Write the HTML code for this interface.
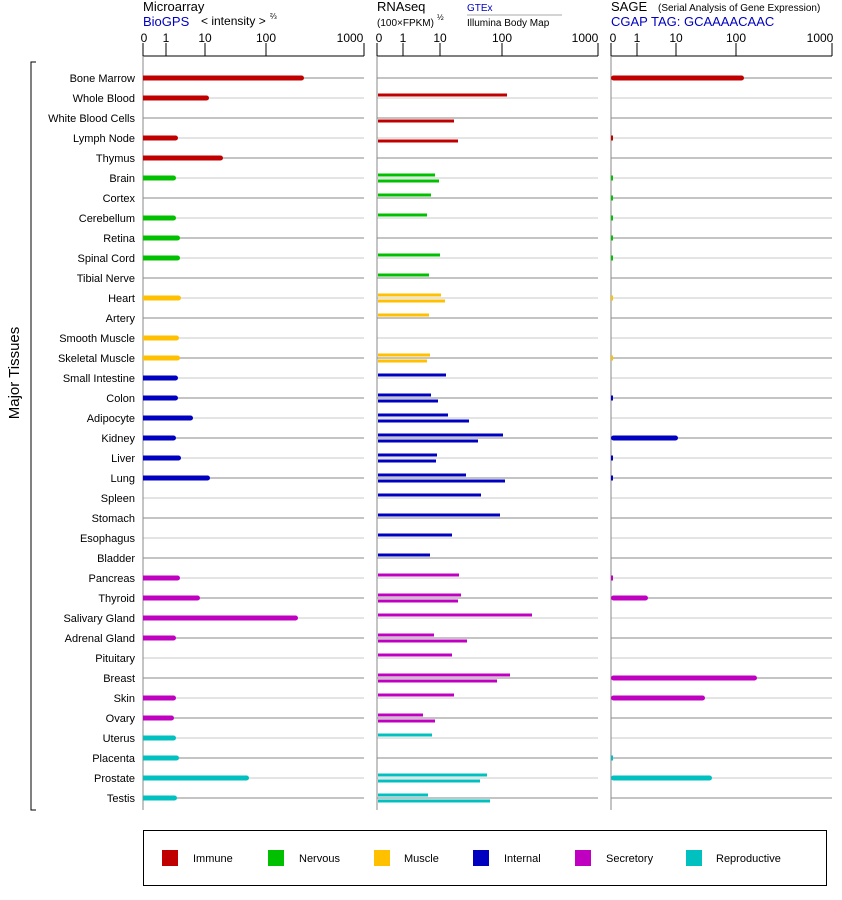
<!DOCTYPE html>
<html><head><meta charset="utf-8"><style>
body{margin:0;background:#fff;}
svg{display:block;font-family:"Liberation Sans",sans-serif;}
.lb{font-size:11px;fill:#000;text-anchor:end;}
.tk{font-size:12px;fill:#000;text-anchor:middle;}
</style></head><body>
<svg id="s" width="842" height="900" viewBox="0 0 842 900">
<g id="grid"></g>
<g id="bars"></g>
<!-- headers -->
<text x="143" y="11" font-size="13">Microarray</text>
<text x="143" y="26" font-size="13" fill="#0000c0">BioGPS</text>
<text x="201" y="25" font-size="12">&lt; intensity &gt;</text>
<text x="270" y="19" font-size="8">⅔</text>
<text x="377" y="11" font-size="13">RNAseq</text>
<text x="377" y="26" font-size="10">(100×FPKM)</text>
<text x="437" y="20" font-size="8">½</text>
<text x="467" y="11" font-size="10" fill="#0000c0">GTEx</text>
<line x1="467" y1="15" x2="562" y2="15" stroke="#aaa" stroke-width="1"/>
<text x="467" y="26" font-size="10">Illumina Body Map</text>
<text x="611" y="11" font-size="13">SAGE</text>
<text x="658" y="11" font-size="10">(Serial Analysis of Gene Expression)</text>
<text x="611" y="26" font-size="13" fill="#0000c0">CGAP TAG: GCAAAACAAC</text>
<g class="tk">
<text x="144" y="42">0</text><text x="166" y="42">1</text><text x="205" y="42">10</text><text x="266" y="42">100</text><text x="350" y="42">1000</text>
<text x="379" y="42">0</text><text x="403" y="42">1</text><text x="440" y="42">10</text><text x="502" y="42">100</text><text x="585" y="42">1000</text>
<text x="613" y="42">0</text><text x="637" y="42">1</text><text x="676" y="42">10</text><text x="736" y="42">100</text><text x="820" y="42">1000</text>
</g>
<!-- y label -->
<text x="19" y="373" font-size="15" text-anchor="middle" transform="rotate(-90 19 373)">Major Tissues</text>
<path d="M36 62 H31 V810 H36" fill="none" stroke="#000" stroke-width="1"/>
<g class="lb">
<text x="135" y="82">Bone Marrow</text><text x="135" y="102">Whole Blood</text><text x="135" y="122">White Blood Cells</text><text x="135" y="142">Lymph Node</text><text x="135" y="162">Thymus</text><text x="135" y="182">Brain</text><text x="135" y="202">Cortex</text><text x="135" y="222">Cerebellum</text><text x="135" y="242">Retina</text><text x="135" y="262">Spinal Cord</text><text x="135" y="282">Tibial Nerve</text><text x="135" y="302">Heart</text><text x="135" y="322">Artery</text><text x="135" y="342">Smooth Muscle</text><text x="135" y="362">Skeletal Muscle</text><text x="135" y="382">Small Intestine</text><text x="135" y="402">Colon</text><text x="135" y="422">Adipocyte</text><text x="135" y="442">Kidney</text><text x="135" y="462">Liver</text><text x="135" y="482">Lung</text><text x="135" y="502">Spleen</text><text x="135" y="522">Stomach</text><text x="135" y="542">Esophagus</text><text x="135" y="562">Bladder</text><text x="135" y="582">Pancreas</text><text x="135" y="602">Thyroid</text><text x="135" y="622">Salivary Gland</text><text x="135" y="642">Adrenal Gland</text><text x="135" y="662">Pituitary</text><text x="135" y="682">Breast</text><text x="135" y="702">Skin</text><text x="135" y="722">Ovary</text><text x="135" y="742">Uterus</text><text x="135" y="762">Placenta</text><text x="135" y="782">Prostate</text><text x="135" y="802">Testis</text>
</g>
<!-- legend -->
<rect x="143.5" y="830.5" width="683" height="55" fill="none" stroke="#000"/>
<rect x="162" y="850" width="16" height="16" fill="#c00000"/><text x="193" y="862" font-size="11">Immune</text>
<rect x="268" y="850" width="16" height="16" fill="#00c000"/><text x="299" y="862" font-size="11">Nervous</text>
<rect x="374" y="850" width="16" height="16" fill="#ffc000"/><text x="404" y="862" font-size="11">Muscle</text>
<rect x="473" y="850" width="16" height="16" fill="#0000c0"/><text x="504" y="862" font-size="11">Internal</text>
<rect x="575" y="850" width="16" height="16" fill="#c000c0"/><text x="606" y="862" font-size="11">Secretory</text>
<rect x="686" y="850" width="16" height="16" fill="#00c0c0"/><text x="716" y="862" font-size="11">Reproductive</text>
</svg>
<script>
var NS="http://www.w3.org/2000/svg";
function el(p,t,a){var e=document.createElementNS(NS,t);for(var k in a)e.setAttribute(k,a[k]);p.appendChild(e);return e;}
var g=document.getElementById("grid"),b=document.getElementById("bars");
var P=[[143,364,[143,166,205,266,364]],[377,598,[377,403,440,502,598]],[611,832,[611,637,676,736,832]]];
for(var i=0;i<37;i++){var y=78+i*20;P.forEach(function(p){el(g,"line",{x1:p[0],x2:p[1],y1:y,y2:y,stroke:i%2?"#c8c8c8":"#888","stroke-width":1});});}
P.forEach(function(p){el(g,"line",{x1:p[0],x2:p[1],y1:56,y2:56,stroke:"#000"});
p[2].forEach(function(x){el(g,"line",{x1:x,x2:x,y1:43,y2:56,stroke:"#000"});});
el(g,"line",{x1:p[0],x2:p[0],y1:56,y2:810,stroke:"#888"});});
var C={R:"#c00000",G:"#00c000",O:"#ffc000",B:"#0000c0",M:"#c000c0",T:"#00c0c0"};
var cat="RRRRRGGGGGGOOOOBBBBBBBBBBMMMMMMMMTTTT";
var ma=[304,209,0,178,223,176,0,176,180,180,0,181,0,179,180,178,178,193,176,181,210,0,0,0,0,180,200,298,176,0,0,176,174,176,179,249,177];
var rn=[[0,0],[507,0],[0,454],[0,458],[0,0],[435,439],[431,0],[427,0],[0,0],[440,0],[429,0],[441,445],[429,0],[0,0],[430,427],[446,0],[431,438],[448,469],[503,478],[437,436],[466,505],[481,0],[500,0],[452,0],[430,0],[459,0],[461,458],[532,0],[434,467],[452,0],[510,497],[454,0],[423,435],[432,0],[0,0],[487,480],[428,490]];
var sg=[744,0,0,613,0,613,613,613,613,613,0,613,0,0,613,0,613,0,678,613,613,0,0,0,0,613,648,0,0,0,757,705,0,0,613,712,0];
for(var i=0;i<37;i++){var y=78+i*20,c=C[cat[i]];
if(ma[i])el(b,"rect",{x:143,y:y-2.5,width:ma[i]-143,height:5,rx:2.5,fill:c}),el(b,"rect",{x:143,y:y-2.5,width:Math.max(1,ma[i]-146),height:5,fill:c});
if(rn[i][0])el(b,"rect",{x:378,y:y-4.5,width:rn[i][0]-378,height:3,fill:c});
if(rn[i][1])el(b,"rect",{x:378,y:y+1.5,width:rn[i][1]-378,height:3,fill:c});
if(sg[i])el(b,"rect",{x:611,y:y-2.5,width:sg[i]-611,height:5,rx:sg[i]-611>5?2.5:0,fill:c});}
</script>
</body></html>
